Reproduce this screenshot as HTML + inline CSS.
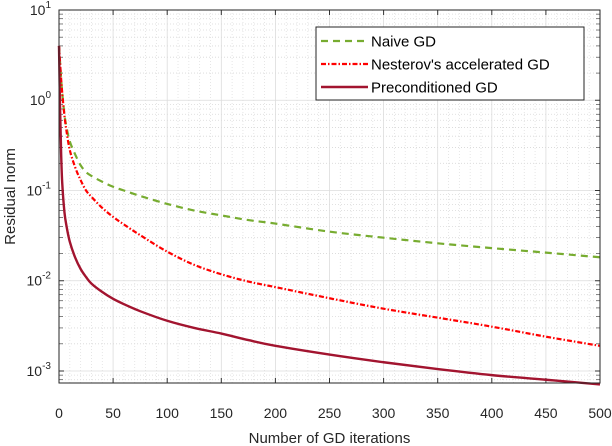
<!DOCTYPE html>
<html><head><meta charset="utf-8"><style>
body{margin:0;background:#fff;}
svg{display:block;font-family:"Liberation Sans",Arial,sans-serif;}
</style></head><body>
<svg id="c" width="612" height="446" viewBox="0 0 612 446"></svg>
<script>
const iters=[0,1,2,3,5,7,10,15,20,25,30,40,50,60,75,100,125,150,175,200,250,300,350,400,450,500];
const naive=[4,2.6,1.7,1.2,0.7,0.5,0.35,0.25,0.19,0.16,0.145,0.125,0.11,0.1,0.087,0.071,0.06,0.053,0.047,0.043,0.035,0.03,0.026,0.023,0.0205,0.0182];
const nesterov=[4,2.6,1.7,1.2,0.68,0.45,0.28,0.18,0.13,0.1,0.085,0.064,0.051,0.042,0.032,0.021,0.015,0.0118,0.0098,0.0085,0.0064,0.0049,0.0039,0.0031,0.0024,0.0019];
const precond=[4,0.8,0.25,0.12,0.058,0.04,0.027,0.018,0.0135,0.011,0.0093,0.0075,0.0063,0.0055,0.0046,0.0036,0.003,0.0026,0.0022,0.0019,0.00152,0.00125,0.00105,0.0009,0.0008,0.00071];
const xTicks=[0,50,100,150,200,250,300,350,400,450,500];
const yExps=[-3,-2,-1,0,1];
const L=59,R=600,T=10,B=383,yTop=1,yBot=-3.133;
const sx=v=>L+(v-0)/(500-0)*(R-L);
const sy=v=>T+(yTop-Math.log10(v))/(yTop-yBot)*(B-T);
const svg=document.getElementById('c');const NS='http://www.w3.org/2000/svg';
function mk(t,a,p){const e=document.createElementNS(NS,t);for(const k in a)e.setAttribute(k,a[k]);(p||svg).appendChild(e);return e;}
const g=mk('g',{});


for(let e=-4;e<1;e++)for(let m=2;m<=9;m++){const v=m*Math.pow(10,e);const y=sy(v);if(y<T||y>B)continue;
 mk('line',{x1:L,x2:R,y1:y,y2:y,stroke:'#d8d8d8','stroke-width':0.8,'stroke-dasharray':'1,2'},g);
 mk('line',{x1:L,x2:L+4,y1:y,y2:y,stroke:'#333','stroke-width':0.6},g);mk('line',{x1:R,x2:R-4,y1:y,y2:y,stroke:'#333','stroke-width':0.6},g);}
for(let v=10;v<500;v+=10){if(v%50==0)continue;const x=sx(v);mk('line',{x1:x,x2:x,y1:T,y2:B,stroke:'#e0e0e0','stroke-width':0.8,'stroke-dasharray':'1,2'},g);}
xTicks.forEach(v=>{const x=sx(v);mk('line',{x1:x,x2:x,y1:T,y2:B,stroke:'#dcdcdc','stroke-width':0.8},g);
 mk('line',{x1:x,x2:x,y1:B,y2:B-5,stroke:'#333'},g);mk('line',{x1:x,x2:x,y1:T,y2:T+5,stroke:'#333'},g);
 const t=mk('text',{x:x,y:418,'text-anchor':'middle','font-size':14,fill:'#262626'});t.textContent=v;
 });
yExps.forEach(e=>{const y=sy(Math.pow(10,e));mk('line',{x1:L,x2:R,y1:y,y2:y,stroke:'#dcdcdc','stroke-width':0.8},g);
 mk('line',{x1:L,x2:L+5,y1:y,y2:y,stroke:'#333'},g);mk('line',{x1:R,x2:R-5,y1:y,y2:y,stroke:'#333'},g);
 const t=mk('text',{x:L-8,y:y+5,'text-anchor':'end','font-size':14,fill:'#262626'});
 
 t.innerHTML='10<tspan dy="-7" font-size="10">'+e+'</tspan>';});
function series(arr,color,w,dash,name){
 const pts=iters.map((v,i)=>[sx(v),sy(arr[i])]);
 let d='M'+pts[0][0]+','+pts[0][1];
 for(let i=0;i<pts.length-1;i++){const p0=pts[Math.max(0,i-1)],p1=pts[i],p2=pts[i+1],p3=pts[Math.min(pts.length-1,i+2)];
  const c1=[p1[0]+(p2[0]-p0[0])/6,p1[1]+(p2[1]-p0[1])/6],c2=[p2[0]-(p3[0]-p1[0])/6,p2[1]-(p3[1]-p1[1])/6];
  d+=' C'+c1+' '+c2+' '+p2;}
 const p=mk('path',{d:d,fill:'none',stroke:color,'stroke-width':w,'stroke-dasharray':dash,'stroke-linejoin':'round'});
 }
series(naive,'#77ac30',2.2,'7,5','naive-gd-line');
series(nesterov,'#ff0000',2.2,'5,2,1.5,2','nesterov-line');
series(precond,'#a2142f',2.4,'','preconditioned-line');
mk('rect',{x:L,y:T,width:R-L,height:B-T,fill:'none',stroke:'#262626','stroke-width':1});
const xl=mk('text',{x:(L+R)/2,y:443,'text-anchor':'middle','font-size':15,fill:'#262626'});xl.textContent='Number of GD iterations';

const yl=mk('text',{x:0,y:0,transform:'translate(15,'+((T+B)/2)+') rotate(-90)','text-anchor':'middle','font-size':15,fill:'#262626'});yl.textContent='Residual norm';

const lg=mk('g',{});
mk('rect',{x:316,y:27,width:268,height:73,fill:'#fff',stroke:'#262626','stroke-width':1},lg);
[['Naive GD','#77ac30','7,5',2.2,'legend-entry-naive'],["Nesterov's accelerated GD",'#ff0000','5,2,1.5,2',2.2,'legend-entry-nesterov'],['Preconditioned GD','#a2142f','',2.4,'legend-entry-preconditioned']].forEach((d,i)=>{
 const y=41+i*23;mk('line',{x1:321,x2:368,y1:y,y2:y,stroke:d[1],'stroke-width':d[3],'stroke-dasharray':d[2]},lg);
 const t=mk('text',{x:371,y:y+5.5,'font-size':15,fill:'#000'},lg);t.textContent=d[0];
 });
</script>
</body></html>
